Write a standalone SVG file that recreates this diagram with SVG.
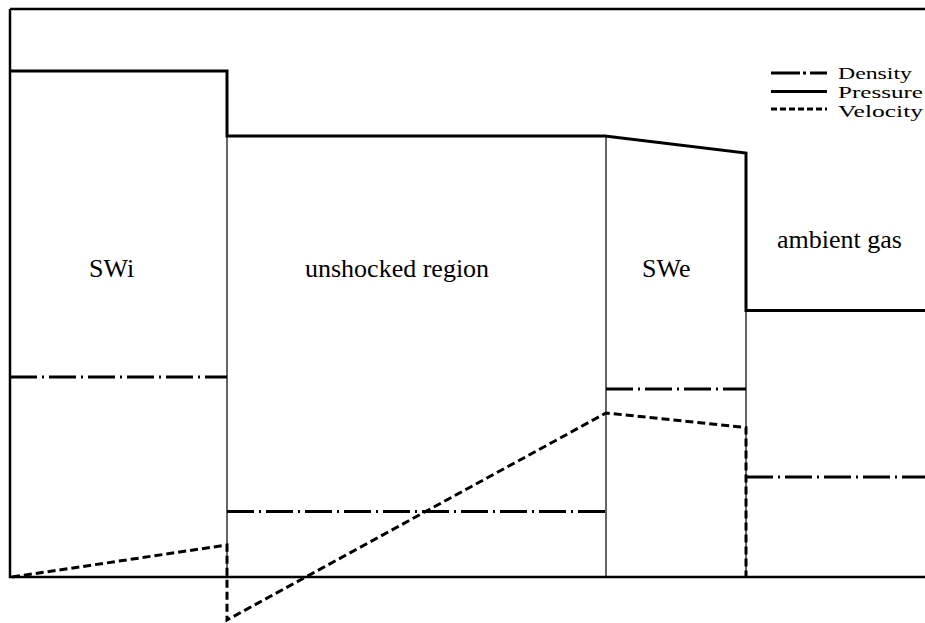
<svg xmlns="http://www.w3.org/2000/svg" width="925" height="623" viewBox="0 0 925 623">
<style>
.frame{fill:none;stroke:#000;stroke-width:2.5}
.thin{fill:none;stroke:#000;stroke-width:1.2}
.p{fill:none;stroke:#000;stroke-width:3;stroke-linejoin:miter}
.d{fill:none;stroke:#000;stroke-width:3;stroke-dasharray:27 5 2 5}
.v{fill:none;stroke:#000;stroke-width:3;stroke-dasharray:8 4}
.lbl{font-family:"Liberation Serif","Times New Roman",serif;font-size:26px;fill:#000}
.leg{font-family:"Liberation Serif","Times New Roman",serif;font-size:16.5px;fill:#000}
</style>
<rect width="925" height="623" fill="#fff"/>
<g id="frame">
<path class="frame" d="M10,9 H925 M10,9 V577 H925"/>
<path class="thin" d="M227,136 V577 M606,136 V577 M746,310 V577"/>
</g>
<g id="connectors">
<path id="pressure" class="p" d="M10,71 H227 V136 H605 L746,153 V310.5 H925"/>
<path id="density-swi" class="d" d="M10,377 H227"/>
<path id="density-unshocked" class="d" d="M227,511.5 H606"/>
<path id="density-swe" class="d" d="M606,389 H746"/>
<path id="density-ambient" class="d" d="M746,477 H925"/>
<path id="velocity" class="v" d="M12,577 L227,545 V620 L606,413 L746,427.5 V577"/>
</g>
<g id="swi"><text class="lbl" x="89" y="277">SWi</text></g>
<g id="unshocked"><text class="lbl" x="305" y="277">unshocked region</text></g>
<g id="swe"><text class="lbl" x="642" y="277">SWe</text></g>
<g id="ambient"><text class="lbl" x="777" y="248">ambient gas</text></g>
<g id="legend">
<path class="p" d="M771,73 H800 M810,73 H827"/>
<path class="p" d="M803,73 H806"/>
<path class="p" d="M771,91.5 H827"/>
<path class="v" d="M771,109 H827" style="stroke-dasharray:6 3"/>
<text class="leg" x="838" y="79" textLength="74" lengthAdjust="spacingAndGlyphs">Density</text>
<text class="leg" x="838" y="98" textLength="85" lengthAdjust="spacingAndGlyphs">Pressure</text>
<text class="leg" x="838" y="117" textLength="85" lengthAdjust="spacingAndGlyphs">Velocity</text>
</g>
</svg>
